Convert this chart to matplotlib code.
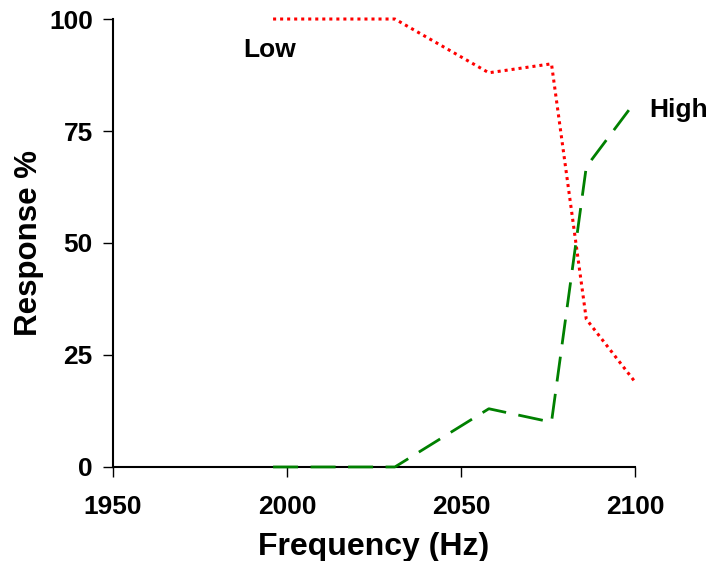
import matplotlib.pyplot as plt

plt.rcParams['font.family'] = ['Liberation Sans', 'DejaVu Sans']
plt.rcParams['font.weight'] = 'bold'

freq = [1996, 2031, 2058, 2076, 2086, 2100]
low = [100, 100, 88, 90, 33, 19]
high = [0, 0, 13, 10, 67, 81.5]

fig = plt.figure(figsize=(7.08, 5.61), dpi=100)
ax = fig.add_axes([0.1596, 0.1676, 0.7373, 0.7985])

ax.plot(freq, low, color='red', linestyle=(0, (1, 1.3)), linewidth=2.2, clip_on=False)
ax.plot(freq, high, color='green', linestyle=(0, (9, 4.5)), linewidth=2, clip_on=False, zorder=3)

ax.text(1995, 93, "Low", fontsize=19, fontweight='bold', ha='center', va='center')
ax.text(2104, 79.7, "High", fontsize=19, fontweight='bold', ha='left', va='center')

ax.set_xlim(1950, 2100)
ax.set_ylim(0, 100)
ax.set_xticks([1950, 2000, 2050, 2100])
ax.set_yticks([0, 25, 50, 75, 100])

ax.spines['top'].set_visible(False)
ax.spines['right'].set_visible(False)
ax.spines['left'].set_linewidth(1.5)
ax.spines['bottom'].set_linewidth(1.5)
ax.tick_params(axis='both', direction='out', length=7.5, width=1, labelsize=19)
ax.tick_params(axis='x', pad=13)
ax.tick_params(axis='y', pad=7)
for lab in ax.get_xticklabels() + ax.get_yticklabels():
    lab.set_fontweight('bold')

ax.set_xlabel("Frequency (Hz)", fontsize=23, fontweight='bold', labelpad=9)
ax.set_ylabel("Response %", fontsize=22.5, fontweight='bold')
ax.yaxis.set_label_coords(-0.133, 0.5)

fig.savefig("out.png", dpi=100)
